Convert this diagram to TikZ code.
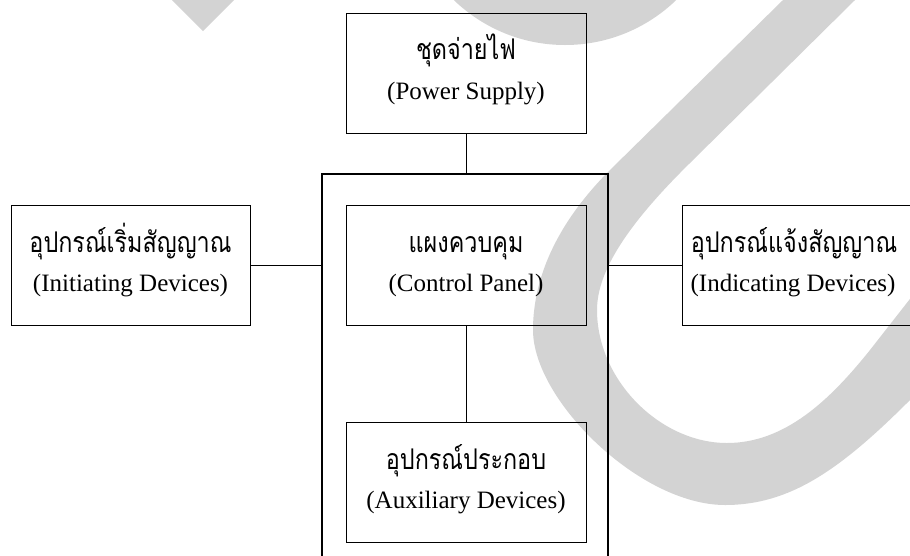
\documentclass[tikz,border=0pt]{standalone}
\usepackage{fontspec}
\setmainfont{Liberation Serif}
\newfontfamily\thaifont[Script=Thai,FakeStretch=0.82]{Loma}
\definecolor{wm}{RGB}{211,211,211}
\tikzset{
  box/.style={draw=black, line width=1pt, rectangle, minimum width=240pt, minimum height=120pt, inner sep=0pt},
  frame/.style={draw=black, line width=2pt, rectangle, minimum width=286pt, minimum height=406pt, inner sep=0pt},
  thai/.style={anchor=base, inner sep=0pt, font=\thaifont\fontsize{28.5}{32}\selectfont},
  eng/.style={anchor=base, inner sep=0pt, font=\fontsize{25}{30}\selectfont},
  link/.style={draw=black, line width=1pt},
}
\begin{document}
\begin{tikzpicture}[x=1pt, y=-1pt]
\useasboundingbox (0,0) rectangle (910,555);
\clip (0,0) rectangle (910,555);
% watermark
\fill[wm] (172,0) -- (234,0) -- (203,31) -- cycle;
\fill[wm] (565,-115) circle[radius=160];
\fill[wm] (783,0) -- (610,170)
  .. controls (555,225) and (533,280) .. (533,330)
  .. controls (533,400) and (640,505) .. (725,505)
  .. controls (790,505) and (840,470) .. (910,400)
  -- (960,350) -- (960,235) -- (870,350)
  .. controls (830,400) and (785,443) .. (727,443)
  .. controls (660,443) and (597,380) .. (597,310)
  .. controls (597,270) and (630,222) .. (690,163)
  -- (855,0) -- cycle;
% boxes
\node[frame] (outer) at (465,377) {};
\node[box] (ps) at (466,73) {};
\node[box, minimum width=239pt] (init) at (130.5,265) {};
\node[box] (cp) at (466,265) {};
\node[box] (ind) at (802,265) {};
\node[box] (aux) at (466,482) {};
% texts
\node[thai] (psT) at ([yshift=-47pt]ps.north) {ชุดจ่ายไฟ};
\node[eng] (psE) at ([yshift=-87pt]ps.north) {(Power Supply)};
\node[thai] (initT) at ([yshift=-48pt]init.north) {อุปกรณ์เริ่มสัญญาณ};
\node[eng] (initE) at ([yshift=-87pt]init.north) {(Initiating Devices)};
\node[thai] (cpT) at ([yshift=-48pt]cp.north) {แผงควบคุม};
\node[eng] (cpE) at ([yshift=-87pt]cp.north) {(Control Panel)};
\node[thai] (indT) at ([xshift=-8pt,yshift=-48pt]ind.north) {อุปกรณ์แจ้งสัญญาณ};
\node[eng] (indE) at ([xshift=-9pt,yshift=-87pt]ind.north) {(Indicating Devices)};
\node[thai] (auxT) at ([yshift=-48pt]aux.north) {อุปกรณ์ประกอบ};
\node[eng] (auxE) at ([yshift=-87pt]aux.north) {(Auxiliary Devices)};
% connectors
\draw[link] (ps.south) -- (ps.south |- outer.north);
\draw[link] (init.east) -- (init.east -| outer.west);
\draw[link] (ind.west -| outer.east) -- (ind.west);
\draw[link] (cp.south) -- (aux.north);
\end{tikzpicture}
\end{document}
